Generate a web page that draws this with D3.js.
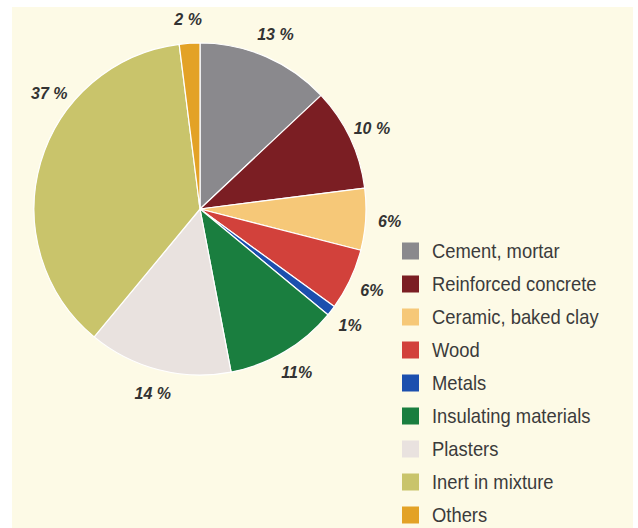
<!DOCTYPE html>
<html>
<head>
<meta charset="utf-8">
<script src="https://cdn.jsdelivr.net/npm/d3@7"></script>
<style>
html,body{margin:0;padding:0;background:#fff;}
svg{display:block;}
</style>
</head>
<body>
<svg id="chart" width="638" height="528"></svg>
<script>
const categories = ["Cement, mortar","Reinforced concrete","Ceramic, baked clay","Wood","Metals","Insulating materials","Plasters","Inert in mixture","Others"];
const values = [13,10,6,6,1,11,14,37,2];
const labels = ["13 %","10 %","6%","6%","1%","11%","14 %","37 %","2 %"];
const colors = ["#8a898d","#7b1e23","#f6c878","#d2413b","#1c4fae","#1a7e3f","#e9e2df","#c9c46b","#e3a226"];

const svg = d3.select("#chart");
svg.append("rect").attr("x",12).attr("y",7).attr("width",621).attr("height",521).attr("fill","#fdfae6");

const cx = 200, cy = 209, R = 166;
const g = svg.append("g").attr("transform",`translate(${cx},${cy})`);
const pie = d3.pie().sort(null).value(d=>d);
const arcs = pie(values);
const arc = d3.arc().innerRadius(0).outerRadius(R);

g.selectAll("path.slice").data(arcs).join("path")
  .attr("class","slice")
  .attr("d",arc)
  .attr("fill",(d,i)=>colors[i])
  .attr("stroke","#ffffff")
  .attr("stroke-width",1.2)
  .attr("stroke-linejoin","round");

const LR = 190;
g.selectAll("text.lab").data(arcs).join("text")
  .attr("class","lab")
  .attr("transform",d=>{
    const span = d.endAngle - d.startAngle;
    const a = span > Math.PI*0.5 ? d.startAngle + span*0.66 : (d.startAngle + d.endAngle)/2;
    return `translate(${LR*Math.sin(a)},${-LR*Math.cos(a)})`;
  })
  .attr("text-anchor","middle")
  .attr("dy","0.36em")
  .attr("font-family","Liberation Sans, Arial, sans-serif")
  .attr("font-weight","bold")
  .attr("font-style","italic")
  .attr("font-size",16)
  .attr("fill","#333333")
  .text((d,i)=>labels[i]);

const legend = svg.append("g").attr("transform","translate(402,251)");
const y = d3.scalePoint().domain(categories).range([0, 33*(categories.length-1)]);
const rows = legend.selectAll("g").data(categories).join("g")
  .attr("transform",d=>`translate(0,${y(d)})`);
rows.append("rect").attr("x",0).attr("y",-8.5).attr("width",17).attr("height",17)
  .attr("fill",(d,i)=>colors[i]);
rows.append("text")
  .attr("transform","translate(30,0) scale(0.92,1)")
  .attr("dy","0.36em")
  .attr("font-family","Liberation Sans Narrow, Arial Narrow, Liberation Sans, sans-serif")
  .attr("font-size",20)
  .attr("fill","#3b3b3b")
  .text(d=>d);
</script>
</body>
</html>
